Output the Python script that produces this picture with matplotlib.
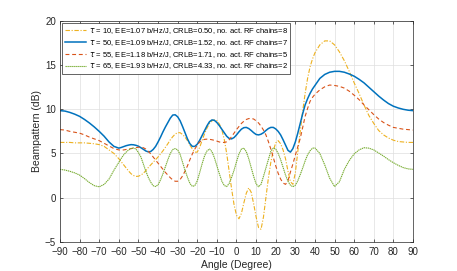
import numpy as np
import matplotlib.pyplot as plt

plt.rcParams['font.family'] = ['Liberation Sans', 'DejaVu Sans']
plt.rcParams['mathtext.fontset'] = 'dejavusans'

# angle samples (degrees): finer in the oscillating middle part
angles = np.concatenate([np.arange(-90, -61, 2.5),
                         np.arange(-60, 40.1, 1.25),
                         np.arange(42.5, 90.1, 2.5)])

# tau = 10 (yellow, dash-dot)
bp_tau10 = [6.25, 6.25, 6.25, 6.2, 6.2, 6.2, 6.15, 6.1, 6.0, 5.8, 5.4, 5.0,
            4.4, 4.05, 3.7, 3.35, 3.0, 2.7, 2.5, 2.4, 2.42, 2.55, 2.75, 3.05,
            3.4, 3.7, 4.0, 4.3, 4.6, 4.95, 5.3, 5.7, 6.1, 6.55, 6.9, 7.2,
            7.35, 7.35, 7.15, 6.85, 6.45, 5.95, 5.5, 5.15, 5.15, 5.7, 6.5, 7.25,
            7.9, 8.4, 8.7, 8.8, 8.7, 8.35, 7.7, 6.6, 5.0, 3.0, 1.0, -0.8,
            -2.0, -2.4, -1.8, -0.6, 0.5, 1.1, 0.6, -0.7, -2.2, -3.4, -3.6, -2.2,
            0.0, 2.2, 4.0, 5.3, 6.2, 6.45, 6.1, 5.4, 4.4, 3.0, 1.8, 1.5,
            2.8, 5.2, 7.5, 9.8, 11.8, 13.5, 14.8, 15.7, 16.4,
            17.3, 17.75, 17.75, 17.3, 16.5, 15.5, 14.3, 13.0, 11.8, 10.5,
            9.3, 8.4, 7.6, 7.1, 6.75, 6.5, 6.35, 6.3, 6.25, 6.25]

# tau = 50 (blue, solid)
bp_tau50 = [9.85, 9.8, 9.65, 9.45, 9.2, 8.85, 8.45, 8.0, 7.5, 6.95, 6.3, 5.8,
            5.6, 5.68, 5.78, 5.88, 5.95, 6.0, 5.98, 5.92, 5.82, 5.65, 5.47, 5.28,
            5.18, 5.22, 5.45, 5.8, 6.3, 6.85, 7.45, 8.0, 8.5, 9.0, 9.35, 9.38,
            9.15, 8.7, 8.05, 7.35, 6.65, 6.1, 5.8, 5.8, 6.05, 6.5, 7.05, 7.6,
            8.15, 8.6, 8.8, 8.75, 8.5, 8.15, 7.75, 7.35, 6.95, 6.7, 6.65, 6.8,
            7.1, 7.45, 7.75, 7.92, 7.95, 7.82, 7.6, 7.35, 7.15, 7.1, 7.18, 7.35,
            7.6, 7.82, 7.95, 7.95, 7.78, 7.5, 7.1, 6.55, 5.95, 5.35, 5.15, 5.55,
            6.3, 7.3, 8.4, 9.5, 10.5, 11.2, 11.8, 12.3, 12.7,
            13.5, 13.95, 14.2, 14.3, 14.3, 14.2, 14.0, 13.75, 13.4, 13.0,
            12.5, 12.0, 11.5, 11.05, 10.65, 10.35, 10.15, 10.0, 9.9, 9.85]

# tau = 55 (red, dashed)
bp_tau55 = [7.7, 7.65, 7.5, 7.4, 7.3, 7.1, 6.85, 6.65, 6.45, 6.15, 5.85, 5.55,
            5.4, 5.37, 5.4, 5.45, 5.5, 5.55, 5.6, 5.65, 5.7, 5.72, 5.65, 5.5,
            5.25, 4.95, 4.6, 4.25, 3.9, 3.55, 3.2, 2.85, 2.55, 2.25, 2.0, 1.85,
            1.85, 2.05, 2.45, 3.0, 3.6, 4.3, 4.95, 5.5, 5.95, 6.3, 6.5, 6.6,
            6.62, 6.6, 6.55, 6.48, 6.4, 6.3, 6.25, 6.25, 6.32, 6.55, 6.9, 7.3,
            7.7, 8.05, 8.4, 8.65, 8.85, 8.95, 8.97, 8.9, 8.7, 8.45, 8.1, 7.65,
            7.1, 6.35, 5.5, 4.55, 3.6, 2.75, 2.1, 1.65, 1.5, 1.9, 2.9, 3.8,
            4.8, 5.75, 6.7, 7.95, 9.2, 10.1, 10.9, 11.35, 11.7,
            12.2, 12.55, 12.75, 12.7, 12.6, 12.4, 12.05, 11.6, 11.1, 10.5,
            9.95, 9.4, 8.9, 8.5, 8.2, 7.95, 7.85, 7.75, 7.7, 7.65]

# tau = 65 (green, dotted)
bp_tau65 = [3.2, 3.12, 2.98, 2.8, 2.55, 2.15, 1.7, 1.35, 1.22, 1.5, 2.1, 3.1,
            4.0, 4.45, 4.85, 5.15, 5.4, 5.55, 5.62, 5.5, 5.1, 4.6, 3.8, 3.0,
            2.3, 1.75, 1.35, 1.25, 1.45, 2.0, 2.7, 3.5, 4.3, 5.0, 5.45, 5.55,
            5.4, 4.9, 4.0, 3.1, 2.3, 1.6, 1.27, 1.35, 1.9, 2.85, 3.85, 4.75,
            5.3, 5.5, 5.2, 4.5, 3.6, 2.7, 1.87, 1.37, 1.25, 1.6, 2.3, 3.1,
            4.05, 4.95, 5.5, 5.6, 5.2, 4.4, 3.4, 2.4, 1.55, 1.23, 1.5, 2.4,
            3.35, 4.3, 5.25, 5.6, 5.5, 5.0, 4.3, 3.43, 2.55, 1.85, 1.4, 1.23,
            1.4, 1.9, 2.6, 3.35, 4.15, 4.85, 5.3, 5.6, 5.62,
            5.0, 3.7, 2.2, 1.25, 1.8, 3.2, 4.2, 4.95, 5.4, 5.65,
            5.6, 5.4, 5.05, 4.7, 4.3, 3.95, 3.65, 3.4, 3.25, 3.2]

labels = [r'$\tau$ = 10, EE=1.07 b/Hz/J, CRLB=0.50, no. act. RF chains=8',
          r'$\tau$ = 50, EE=1.09 b/Hz/J, CRLB=1.52, no. act. RF chains=7',
          r'$\tau$ = 55, EE=1.18 b/Hz/J, CRLB=1.71, no. act. RF chains=5',
          r'$\tau$ = 65, EE=1.93 b/Hz/J, CRLB=4.33, no. act. RF chains=2']

fig = plt.figure(figsize=(4.57, 2.71), dpi=100)
ax = fig.add_axes([0.1313, 0.108, 0.7724, 0.8144])

ax.plot(angles, bp_tau10, color='#EDB120', lw=0.8, ls=(0, (4, 1.5, 1, 1.5)), label=labels[0])
ax.plot(angles, bp_tau50, '-', color='#0072BD', lw=1.1, label=labels[1])
ax.plot(angles, bp_tau55, color='#D95319', lw=0.8, ls=(0, (3.5, 2.5)), label=labels[2])
ax.plot(angles, bp_tau65, color='#77AC30', lw=0.8, ls=(0, (1.2, 0.6)), label=labels[3])

ax.set_xlim(-90, 90)
ax.set_ylim(-5, 20)
ax.set_xticks(np.arange(-90, 91, 10))
ax.set_yticks(np.arange(-5, 21, 5))
ax.grid(True, color='#dedede', lw=0.5)
ax.set_axisbelow(True)
ax.tick_params(direction='in', length=2.5, width=0.5, labelsize=7,
               colors='#262626', top=True, right=True)
ax.tick_params(axis='x', pad=4)
ax.tick_params(axis='y', pad=3)
for s in ax.spines.values():
    s.set_color('#262626')
    s.set_linewidth(0.5)

ax.set_xlabel('Angle (Degree)', fontsize=7.5, color='#262626', labelpad=2)
ax.set_ylabel('Beampattern (dB)', fontsize=7.5, color='#262626', labelpad=2)

leg = ax.legend(loc='upper left', fontsize=5.5, fancybox=False, framealpha=1,
                edgecolor='#262626', handlelength=2.7, handletextpad=0.4,
                labelspacing=0.25, borderpad=0.35, borderaxespad=0.3)
leg.get_frame().set_linewidth(0.5)

fig.savefig('out.png', dpi=100)
